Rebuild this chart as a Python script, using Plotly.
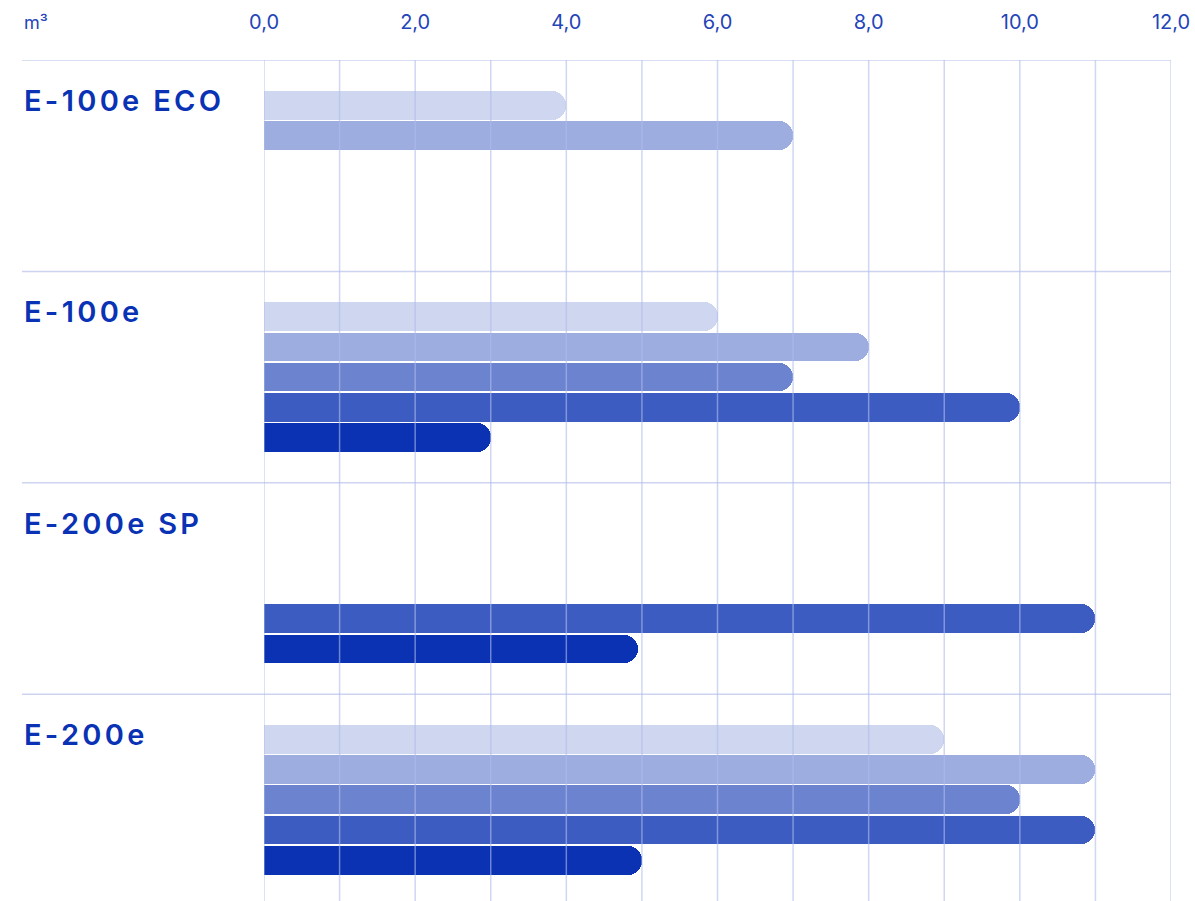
import plotly.graph_objects as go

# ---- data ----
categories = ["E-100e ECO", "E-100e", "E-200e SP", "E-200e"]
series_1 = [4.0, 6.0, None, 9.0]
series_2 = [7.0, 8.0, None, 11.0]
series_3 = [None, 7.0, None, 10.0]
series_4 = [None, 10.0, 11.0, 11.0]
series_5 = [None, 3.0, 4.95, 5.0]
tick_values = [0, 2, 4, 6, 8, 10, 12]
tick_labels = ["0,0", "2,0", "4,0", "6,0", "8,0", "10,0", "12,0"]
grid_values = list(range(0, 13))
unit_label = "m³"

series = [series_1, series_2, series_3, series_4, series_5]
colors = ["#cfd6ef", "#9dade0", "#6c83cf", "#3c5cc2", "#0a32b2"]
SLOTS = 7  # slots per category band

fig = go.Figure()
for si, (vals, col) in enumerate(zip(series, colors)):
    ys = [ci * SLOTS + si + 1 for ci in range(len(categories))]
    fig.add_trace(go.Bar(
        x=vals, y=ys, orientation="h", width=0.95,
        marker=dict(color=col, line=dict(width=0), cornerradius="50%"),
        showlegend=False, hoverinfo="x",
    ))

shapes = []
# vertical grid lines drawn above bars
for gv in grid_values:
    shapes.append(dict(type="line", xref="x", yref="paper", x0=gv, x1=gv, y0=0, y1=1,
                       layer="above", line=dict(color="rgba(175,188,235,0.6)", width=1.5)))
# horizontal band separators
for ci in range(len(categories)):
    yb = ci * SLOTS - 0.5
    shapes.append(dict(type="line", xref="paper", yref="y", x0=0, x1=1, y0=yb, y1=yb,
                       layer="below", line=dict(color="#cdd4ef", width=1.5)))

annotations = []
for ci, cat in enumerate(categories):
    annotations.append(dict(
        xref="paper", yref="y", x=0, y=ci * SLOTS + 0.84, xanchor="left", yanchor="middle",
        text='<span style="letter-spacing:3.3px">' + cat + '</span>', showarrow=False,
        font=dict(family="Inter", size=29, color="#0a32b4", weight=600),
    ))
annotations.append(dict(
    xref="paper", yref="paper", x=0, y=1.045, xanchor="left", yanchor="middle",
    text=unit_label, showarrow=False,
    font=dict(family="Inter", size=18, color="#2444b8"),
))

fig.update_layout(
    width=1195, height=901,
    margin=dict(l=22, r=24, t=60, b=0),
    plot_bgcolor="white", paper_bgcolor="white",
    barmode="overlay", bargap=0,
    xaxis=dict(
        domain=[242 / 1149, 1], range=[0, 12], side="top",
        tickvals=tick_values, ticktext=tick_labels,
        showgrid=False, zeroline=False, showline=False, ticks="",
        ticklabelstandoff=26, ticklabeloverflow="allow",
        tickfont=dict(family="Inter", size=20, color="#2444b8"),
    ),
    yaxis=dict(
        range=[len(categories) * SLOTS - 0.65, -0.5], showticklabels=False,
        showgrid=False, zeroline=False, showline=False, ticks="",
    ),
    shapes=shapes, annotations=annotations,
)

fig.write_html(
    "out.html",
    config={"displayModeBar": False},
    post_script="document.body.style.margin='0';document.body.style.overflow='hidden';",
)
